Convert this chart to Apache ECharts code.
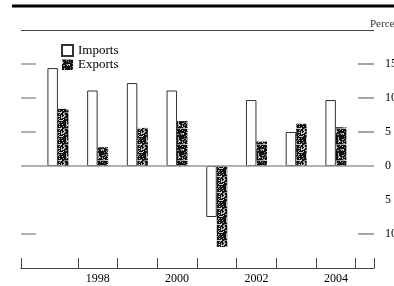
<!DOCTYPE html>
<html>
<head>
<meta charset="utf-8">
<script src="https://cdn.jsdelivr.net/npm/echarts@6/dist/echarts.min.js"></script>
<style>
  html, body { margin: 0; padding: 0; background: #fff; }
  #main { width: 394px; height: 286px; }
</style>
</head>
<body>
<div id="main"></div>
<script>
var years = [1997, 1998, 1999, 2000, 2001, 2002, 2003, 2004];
var imports = [14.4, 11.1, 12.2, 11.1, -7.5, 9.7, 5.0, 9.7];
var exports = [8.4, 2.75, 5.6, 6.6, -11.9, 3.6, 6.2, 5.7];
var yearLabels = [1998, 2000, 2002, 2004];
var yTicks = [-10, 5, 10, 15];
var yLabels = [-10, -5, 0, 5, 10, 15];

// speckled dark fill like the scanned print
function speckle() {
  var c = document.createElement('canvas');
  c.width = 16; c.height = 16;
  var ctx = c.getContext('2d');
  ctx.fillStyle = '#111';
  ctx.fillRect(0, 0, 16, 16);
  for (var y = 0; y < 16; y++) {
    for (var x = 0; x < 16; x++) {
      var h = ((x * 73856093) ^ (y * 19349663)) % 97;
      if (h < 0) h = -h;
      if (h < 28) {
        var g = 120 + (h * 4);
        ctx.fillStyle = 'rgb(' + g + ',' + g + ',' + g + ')';
        ctx.fillRect(x, y, 1, 1);
      }
    }
  }
  return c;
}

var chart = echarts.init(document.getElementById('main'));
var serif = 'Liberation Serif, DejaVu Serif, serif';

chart.setOption({
  animation: false,
  title: {
    text: 'Percent', left: 365, top: 14,
    textStyle: { fontFamily: serif, fontSize: 11, fontWeight: 'normal', color: '#333' }
  },
  legend: {
    orient: 'vertical', left: 56, top: 39,
    itemWidth: 11, itemHeight: 11, itemGap: 1,
    textStyle: { fontFamily: serif, fontSize: 13, lineHeight: 11, color: '#000' },
    data: [
      { name: 'Imports', icon: 'rect' },
      { name: 'Exports', icon: 'rect' }
    ]
  },
  graphic: [
    { type: 'line', shape: { x1: 12, y1: 6, x2: 394, y2: 6 }, style: { stroke: '#000', lineWidth: 3 } },
    { type: 'line', shape: { x1: 21, y1: 30.5, x2: 374, y2: 30.5 }, style: { stroke: '#444', lineWidth: 1 } }
  ],
  grid: { left: 21, right: 20, top: 30, bottom: 18, outerBoundsMode: 'none', containLabel: false },
  xAxis: {
    type: 'value', min: 1996.07, max: 2004.96,
    axisLine: { onZero: false, lineStyle: { color: '#444', width: 1 } },
    axisTick: {
      inside: true, length: 10,
      customValues: [1996.07, 1997.5, 1998.5, 1999.5, 2000.5, 2001.5, 2002.5, 2003.5, 2004.5, 2004.96],
      lineStyle: { color: '#444' }
    },
    axisLabel: {
      customValues: yearLabels, margin: 5,
      fontFamily: serif, fontSize: 12, color: '#000',
      formatter: function (v) { return String(v); }
    },
    splitLine: { show: false }
  },
  yAxis: [
    {
      type: 'value', position: 'left', min: -15, max: 20,
      axisLine: { show: false },
      axisTick: { inside: true, length: 15, customValues: yTicks, lineStyle: { color: '#999', width: 1.5 } },
      axisLabel: { show: false },
      splitLine: { show: false }
    },
    {
      type: 'value', position: 'right', min: -15, max: 20,
      axisLine: { show: false },
      axisTick: { inside: true, length: 16, customValues: yTicks, lineStyle: { color: '#888', width: 1.5 } },
      axisLabel: {
        customValues: yLabels, margin: 11,
        fontFamily: serif, fontSize: 12, color: '#000',
        formatter: function (v) { return Math.abs(v); }
      },
      splitLine: { show: false }
    }
  ],
  series: [
    {
      name: 'Imports', type: 'bar', barWidth: 10.5, barGap: '0%',
      data: years.map(function (y, i) { return [y, imports[i]]; }),
      itemStyle: { color: '#fff', borderColor: '#333', borderWidth: 1 },
      markLine: {
        silent: true, symbol: 'none', label: { show: false },
        lineStyle: { color: '#999', width: 1.5, type: 'solid' },
        data: [{ yAxis: 0 }]
      }
    },
    {
      name: 'Exports', type: 'bar', barWidth: 10.5, barGap: '0%',
      data: years.map(function (y, i) { return [y, exports[i]]; }),
      itemStyle: { color: { image: speckle(), repeat: 'repeat' } }
    }
  ]
});
</script>
</body>
</html>
